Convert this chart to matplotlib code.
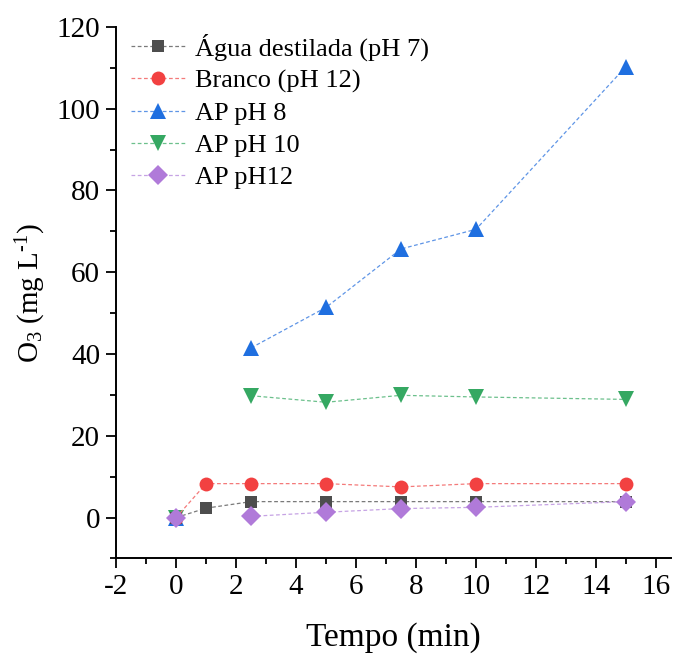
import numpy as np
import matplotlib
matplotlib.use('Agg')
import matplotlib.pyplot as plt
from matplotlib.ticker import MultipleLocator

# Data
tempo_agua = [0, 1, 2.5, 5, 7.5, 10, 15]
o3_agua = [0, 2.3, 3.9, 3.9, 3.9, 3.9, 3.9]

tempo_branco = [0, 1, 2.5, 5, 7.5, 10, 15]
o3_branco = [0, 8.3, 8.3, 8.3, 7.5, 8.3, 8.3]

tempo_ap = [2.5, 5, 7.5, 10, 15]
o3_ph8 = [41.5, 51.4, 65.7, 70.5, 110.3]
o3_ph10 = [29.8, 28.2, 29.9, 29.5, 28.9]
o3_ph12 = [0.3, 1.3, 2.2, 2.5, 3.9]
o3_ap_t0 = 0

labels = ['Água destilada (pH 7)', 'Branco (pH 12)', 'AP pH 8', 'AP pH 10', 'AP pH12']
colors = ['#4d4d4d', '#f24141', '#1f6fe0', '#35a862', '#b07ad9']
line_colors = ['#7a7a7a', '#f47a7a', '#5f95e6', '#6cc08c', '#c6a3e4']
markers = ['s', 'o', '^', 'v', 'D']
ms = [9, 10, 11, 11, 10]

plt.rcParams['font.family'] = ['Liberation Serif', 'DejaVu Serif']
plt.rcParams['axes.unicode_minus'] = False
plt.rcParams['mathtext.fontset'] = 'custom'
plt.rcParams['mathtext.rm'] = 'Liberation Serif'
plt.rcParams['mathtext.it'] = 'Liberation Serif:italic'

fig = plt.figure(figsize=(6.75, 6.57), dpi=100)
ax = fig.add_axes([0.172, 0.150, 0.822, 0.809])

series = [(tempo_agua, o3_agua), (tempo_branco, o3_branco),
          (tempo_ap, o3_ph8), (tempo_ap, o3_ph10), (tempo_ap, o3_ph12)]

# AP series: the t=0 point is drawn without a connecting line
for i in (2, 3):
    ax.plot([0], [o3_ap_t0], marker=markers[i], color=colors[i], markersize=ms[i],
            markeredgewidth=0, linestyle='none', zorder=3)

for i, (x, y) in enumerate(series):
    ax.plot(x, y, marker=markers[i], color=line_colors[i], markersize=ms[i],
            markerfacecolor=colors[i], markeredgewidth=0, label=labels[i],
            linestyle='--', linewidth=0.9, dashes=(3, 2), zorder=4 + i)

ax.plot([0], [o3_ap_t0], marker=markers[4], color=colors[4], markersize=ms[4],
        linestyle='none', markeredgewidth=0, zorder=10)

ax.set_xlim(-2, 16.5)
ax.set_ylim(-10, 120)
ax.xaxis.set_major_locator(MultipleLocator(2))
ax.xaxis.set_minor_locator(MultipleLocator(1))
ax.yaxis.set_major_locator(MultipleLocator(20))
ax.yaxis.set_minor_locator(MultipleLocator(10))
ax.tick_params(which='major', length=7.5, width=1.3, labelsize=21, direction='out', pad=4)
ax.tick_params(which='minor', length=4, width=1.3, direction='out')

for s in ('top', 'right'):
    ax.spines[s].set_visible(False)
for s in ('left', 'bottom'):
    ax.spines[s].set_linewidth(1.4)

ax.set_xlabel('Tempo (min)', fontsize=24, labelpad=16)
ax.set_ylabel('O$_3$ (mg L$^{\\text{-1}}$)', fontsize=21, labelpad=6)

ax.legend(loc='upper left', frameon=False, fontsize=19, handlelength=2.1,
          handletextpad=0.35, labelspacing=0.32, borderaxespad=0,
          bbox_to_anchor=(0.007, 1.008))

plt.savefig('out.png', dpi=100, facecolor='white')
plt.close()
